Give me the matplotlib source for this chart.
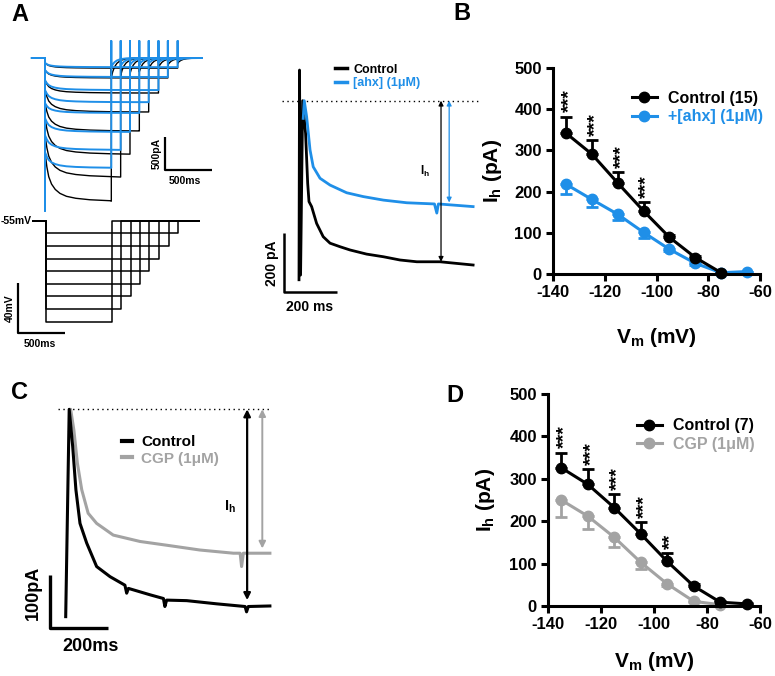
import numpy as np
import matplotlib
matplotlib.use('Agg')
import matplotlib.pyplot as plt
from matplotlib.lines import Line2D

plt.rcParams['font.family'] = ['Liberation Sans', 'DejaVu Sans']
plt.rcParams['font.weight'] = 'bold'
plt.rcParams['axes.labelweight'] = 'bold'
plt.rcParams['axes.unicode_minus'] = False
plt.rcParams['mathtext.fontset'] = 'custom'
plt.rcParams['mathtext.rm'] = 'Liberation Sans:bold'
plt.rcParams['mathtext.it'] = 'Liberation Sans:bold'
plt.rcParams['mathtext.bf'] = 'Liberation Sans:bold'

BLUE = '#1f8fe8'
GREY = '#a3a3a3'

# ---- panel A, left: step protocol and current sweeps (ms, pA, mV) ----
step_v = [-135, -125, -115, -105, -95, -85, -75, -65]
step_dur = [710, 810, 910, 1010, 1110, 1215, 1315, 1420]
hold_v = -55
inst = [-1440, -1180, -920, -690, -490, -340, -185, -75]
ss_ctrl = [-2190, -1820, -1470, -1115, -825, -535, -305, -155]
ss_ahx = [-1680, -1405, -1130, -840, -675, -490, -290, -140]
tail_ctrl = [-300, -270, -240, -210, -180, -150, -110, -80]
tail_ahx = [-140, -125, -110, -100, -85, -70, -55, -40]
onset_spike = -2330
end_spike = 260
# sag and tail time courses (fraction of full change)
act_t = [0, 20, 40, 70, 110, 160, 230, 330, 480, 700, 1000, 1500]
act_f = [0, 0.3, 0.5, 0.65, 0.76, 0.84, 0.9, 0.94, 0.97, 0.99, 1.0, 1.0]
tail_t = [0, 15, 35, 60, 100, 160, 250]
tail_f = [1, 0.7, 0.45, 0.27, 0.12, 0.04, 0]
i_start, i_end = -140, 1680
v_start, v_end = -135, 1640

# ---- panel A, middle: example Ih traces ----
am_ctrl_t = [0, 2, 6, 14, 25, 33, 38, 48, 67, 92, 118, 156, 194, 257, 321, 384, 448, 536, 662]
am_ctrl_i = [-607, 104, -591, 0, -111, -280, -342, -359, -416, -461, -483, -495, -506, -520, -529, -540, -546, -546, -557]
am_ahx_t = [16, 20, 29, 42, 54, 80, 118, 181, 244, 321, 410, 515, 524, 530, 662]
am_ahx_i = [-60, 0, -54, -167, -224, -263, -286, -312, -325, -337, -346, -350, -381, -350, -359]

# ---- panel C: example Ih traces ----
c_ctrl_t = [0, 12, 24, 35, 49, 72, 106, 152, 203, 209, 215, 289, 335, 340, 346, 415, 518, 615, 620, 626, 700]
c_ctrl_i = [-389, 0, -70, -151, -214, -251, -295, -314, -330, -345, -336, -348, -355, -370, -358, -359, -365, -370, -380, -370, -369]
c_cgp_t = [13, 17, 28, 40, 55, 77, 106, 163, 255, 346, 460, 575, 598, 603, 609, 700]
c_cgp_i = [-40, 0, -39, -101, -151, -195, -214, -236, -248, -255, -264, -270, -270, -295, -270, -270]

# ---- panel B: I-V ----
vb_ctrl = [-135, -125, -115, -105, -95, -85, -75]
ihb_ctrl = [342, 291, 221, 153, 89, 40, 3]
semb_ctrl = [40, 34, 27, 22, 6, 4, 2]
vb_ahx = [-135, -125, -115, -105, -95, -85, -75, -65]
ihb_ahx = [218, 181, 145, 101, 60, 26, 3, 6]
semb_ahx = [24, 18, 14, 14, 4, 3, 1, 1]
stars_b = ['***', '***', '***', '***']

# ---- panel D: I-V ----
vd_ctrl = [-135, -125, -115, -105, -95, -85, -75, -65]
ihd_ctrl = [326, 287, 232, 170, 105, 47, 9, 5]
semd_ctrl = [36, 36, 31, 28, 20, 4, 2, 2]
vd_cgp = [-135, -125, -115, -105, -95, -85, -75]
ihd_cgp = [250, 212, 162, 103, 52, 11, 3]
semd_cgp = [39, 31, 24, 16, 4, 2, 1]
stars_d = ['***', '***', '***', '***', '**']

W, H = 775, 676
fig = plt.figure(figsize=(W / 100, H / 100), dpi=100)


def px_axes(l, t, r, b):
    return fig.add_axes([l / W, 1 - b / H, (r - l) / W, (b - t) / H])


def trace_axes(box, xref, yref, sx, sy):
    # box in pixels, xref/yref = (pixel, value), sx/sy = pixels per unit
    l, t, r, b = box
    ax = px_axes(l, t, r, b)
    ax.set_xlim(xref[1] + (l - xref[0]) / sx, xref[1] + (r - xref[0]) / sx)
    ax.set_ylim(yref[1] - (b - yref[0]) / sy, yref[1] + (yref[0] - t) / sy)
    ax.axis('off')
    return ax


def sweep(k, ss, tail):
    d = step_dur[k]
    t = [i_start, 0, 0, 0]
    y = [0, 0, onset_spike, inst[k]]
    for ta, fa in zip(act_t, act_f):
        if 0 < ta < d:
            t.append(ta)
            y.append(inst[k] + (ss - inst[k]) * fa)
    t += [d, d, d]
    y += [ss, end_spike, tail]
    for tt, ft in zip(tail_t[1:], tail_f[1:]):
        t.append(d + tt)
        y.append(tail * ft)
    t.append(i_end)
    y.append(0)
    return t, y


# ---------- A left: currents ----------
axAi = trace_axes((28, 36, 215, 216), (45, 0), (58, 0), 0.0934, 0.0654)
for k in range(len(step_v)):
    t, y = sweep(k, ss_ctrl[k], tail_ctrl[k])
    axAi.plot(t, y, color='k', lw=1.0)
for k in range(len(step_v)):
    t, y = sweep(k, ss_ahx[k], tail_ahx[k])
    axAi.plot(t, y, color=BLUE, lw=1.4)
axAi.plot([1285, 1285, 1785], [-1212, -1712, -1712], color='k', lw=1.6, solid_capstyle='butt')
axAi.text(1196, -1463, '500pA', rotation=90, ha='center', va='center', fontsize=7.5)
axAi.text(1502, -1876, '500ms', ha='center', va='center', fontsize=7.5)

# ---------- A left: voltage protocol ----------
axAv = trace_axes((0, 212, 215, 352), (45.7, 0), (220.7, hold_v), 0.0934, 1.2625)
for k in range(len(step_v)):
    d = step_dur[k]
    axAv.plot([v_start, 0, 0, d, d, v_end],
              [hold_v, hold_v, step_v[k], step_v[k], hold_v, hold_v], color='k', lw=1.1)
axAv.plot([-297, -297, 203], [-104, -144, -144], color='k', lw=1.6, solid_capstyle='butt')
axAv.text(-382, -124, '40mV', rotation=90, ha='center', va='center', fontsize=7.5)
axAv.text(-61, -152.5, '500ms', ha='center', va='center', fontsize=7.5)
axAv.text(-150, hold_v, '-55mV', ha='right', va='center', fontsize=7.5)

# ---------- A middle ----------
axAm = trace_axes((255, 55, 495, 320), (299, 0), (100.7, 0), 0.263, 0.295)
axAm.plot([-65, 688], [0, 0], color='k', ls=(0, (1, 2.5)), lw=1.0)
axAm.plot(am_ctrl_t, am_ctrl_i, color='k', lw=2.0)
axAm.plot(am_ahx_t, am_ahx_i, color=BLUE, lw=2.0)
axAm.annotate('', xy=(540, am_ctrl_i[-2]), xytext=(540, 0),
              arrowprops=dict(arrowstyle='<|-|>', color='k', lw=0.9, mutation_scale=7, shrinkA=0, shrinkB=0))
axAm.annotate('', xy=(571, -345), xytext=(571, 0),
              arrowprops=dict(arrowstyle='<|-|>', color=BLUE, lw=0.9, mutation_scale=7, shrinkA=0, shrinkB=0))
axAm.text(479, -240, 'I$_h$', ha='center', va='center', fontsize=8.5)
axAm.plot([-57, -57, 143], [-447.5, -647.5, -647.5], color='k', lw=1.8, solid_capstyle='butt')
axAm.text(-104, -550, '200 pA', rotation=90, ha='center', va='center', fontsize=10)
axAm.text(42, -698, '200 ms', ha='center', va='center', fontsize=10)
hm = [Line2D([], [], color='k', lw=2.5), Line2D([], [], color=BLUE, lw=2.5)]
axAm.legend(hm, ['Control', '[ahx] (1μM)'], loc='center left', bbox_to_anchor=(0.333, 0.919),
            frameon=False, fontsize=9, handlelength=1.0, handletextpad=0.45, labelspacing=0.15,
            borderpad=0, borderaxespad=0, labelcolor=['k', BLUE])

# ---------- C ----------
axC = trace_axes((0, 385, 300, 676), (65.7, 0), (409.3, 0), 0.2917, 0.533)
axC.plot([-26, 700], [0, 0], color='k', ls=(0, (1, 2.5)), lw=1.0)
axC.plot(c_cgp_t, c_cgp_i, color=GREY, lw=2.2)
axC.plot(c_ctrl_t, c_ctrl_i, color='k', lw=2.2)
axC.annotate('', xy=(622, -358), xytext=(622, 0),
             arrowprops=dict(arrowstyle='<|-|>', color='k', lw=1.6, mutation_scale=10, shrinkA=0, shrinkB=0))
axC.annotate('', xy=(674, -261), xytext=(674, 0),
             arrowprops=dict(arrowstyle='<|-|>', color=GREY, lw=1.4, mutation_scale=10, shrinkA=0, shrinkB=0))
axC.text(563, -183, 'I$_h$', ha='center', va='center', fontsize=10.5)
axC.plot([-53.8, -53.8, 146.2], [-311, -411, -411], color='k', lw=2.4, solid_capstyle='butt')
axC.text(-111, -345, '100pA', rotation=90, ha='center', va='center', fontsize=13)
axC.text(86, -445, '200ms', ha='center', va='center', fontsize=13)
hc = [Line2D([], [], color='k', lw=3), Line2D([], [], color=GREY, lw=3)]
axC.legend(hc, ['Control', 'CGP (1μM)'], loc='center left', bbox_to_anchor=(0.406, 0.775),
           frameon=False, fontsize=11, handlelength=0.65, handletextpad=0.6, labelspacing=0.15,
           borderpad=0, borderaxespad=0, labelcolor=['k', GREY])


# ---------- I-V panels ----------
def iv_panel(ax, v1, i1, s1, v2, i2, s2, col2, stars, labels, leg_anchor, xlab_y, ylab_x):
    ax.errorbar(v2, i2, yerr=[s2, np.zeros(len(s2))], fmt='-o', color=col2, lw=2.2, ms=7.5,
                capsize=4, capthick=2, elinewidth=2)
    ax.errorbar(v1, i1, yerr=[np.zeros(len(s1)), s1], fmt='-o', color='k', lw=2.2, ms=7.5,
                capsize=4, capthick=2, elinewidth=2)
    for v, m, s, st in zip(v1, i1, s1, stars):
        ax.annotate(st, (v, m + s), xytext=(2.5, 3), textcoords='offset points', rotation=90,
                    ha='center', va='bottom', fontsize=14, fontweight='bold')
    for a in ax.get_children():
        a.set_clip_on(False)
    ax.set_xlim(-140, -60)
    ax.set_ylim(0, 500)
    ax.set_xticks([-140, -120, -100, -80, -60])
    ax.set_yticks([0, 100, 200, 300, 400, 500])
    for sp in ['top', 'right']:
        ax.spines[sp].set_visible(False)
    for sp in ['left', 'bottom']:
        ax.spines[sp].set_linewidth(2.2)
    ax.tick_params(direction='out', length=5, width=2.2, labelsize=12, pad=3)
    for lab in ax.get_xticklabels() + ax.get_yticklabels():
        lab.set_fontweight('bold')
    ax.set_ylabel('I$_h$ (pA)', fontsize=15, va='center')
    ax.set_xlabel('V$_m$ (mV)', fontsize=15, va='center')
    ax.yaxis.set_label_coords(ylab_x, 0.5)
    ax.xaxis.set_label_coords(0.5, xlab_y)
    hh = [Line2D([], [], color='k', lw=2.2, marker='o', ms=7.5),
          Line2D([], [], color=col2, lw=2.2, marker='o', ms=7.5)]
    ax.legend(hh, labels, loc='center left', bbox_to_anchor=leg_anchor, frameon=False,
              fontsize=11.5, handlelength=1.6, handletextpad=0.7, labelspacing=0.2,
              borderpad=0, borderaxespad=0, labelcolor=['k', col2])


axB = px_axes(553, 68, 760, 274)
iv_panel(axB, vb_ctrl, ihb_ctrl, semb_ctrl, vb_ahx, ihb_ahx, semb_ahx, BLUE, stars_b,
         ['Control (15)', '+[ahx] (1μM)'], (0.38, 0.808), -0.306, -0.29)

axD = px_axes(548, 394, 760, 606)
iv_panel(axD, vd_ctrl, ihd_ctrl, semd_ctrl, vd_cgp, ihd_cgp, semd_cgp, GREY, stars_d,
         ['Control (7)', 'CGP (1μM)'], (0.418, 0.807), -0.26, -0.297)

# panel letters
for s, x, y in [('A', 19.5, 14.5), ('B', 461.5, 13.5), ('C', 19.5, 392.5), ('D', 455, 395)]:
    fig.text(x / W, 1 - y / H, s, fontsize=17, fontweight='bold', ha='center', va='center')

fig.savefig('out.png', dpi=100, facecolor='white')
